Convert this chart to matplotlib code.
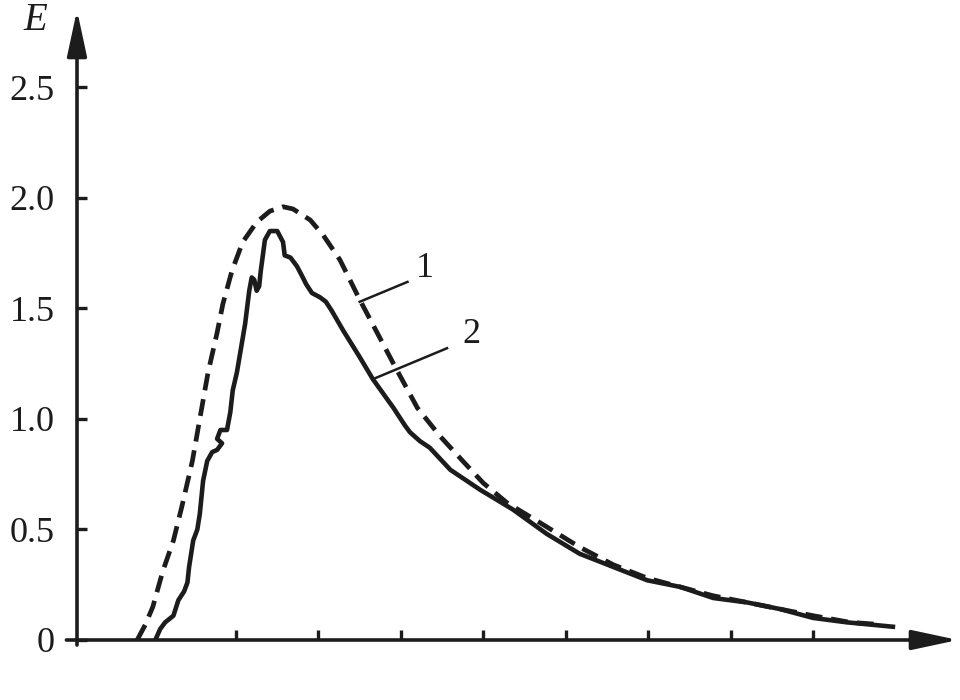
import matplotlib
matplotlib.use("Agg")
import matplotlib.pyplot as plt
from matplotlib.patches import ArrowStyle

# ---- data ----
x1 = [0.80, 0.90, 0.99, 1.11, 1.24, 1.34, 1.47, 1.56, 1.66, 1.77, 1.84, 1.95,
      2.08, 2.25, 2.41, 2.57, 2.69, 2.90, 3.06, 3.26, 3.42, 3.50, 3.91, 4.20,
      4.48, 4.75, 5.00, 5.29, 5.69, 6.17, 6.58, 6.99, 7.39, 7.79, 8.20, 8.60,
      9.00, 9.45, 9.82]
y1 = [0.00, 0.07, 0.15, 0.31, 0.45, 0.60, 0.81, 1.00, 1.21, 1.39, 1.52, 1.67,
      1.80, 1.89, 1.94, 1.96, 1.95, 1.90, 1.83, 1.72, 1.60, 1.54, 1.25, 1.05,
      0.92, 0.81, 0.71, 0.62, 0.53, 0.42, 0.34, 0.28, 0.24, 0.20, 0.17, 0.14,
      0.11, 0.08, 0.07]

x2 = [1.02, 1.08, 1.14, 1.24, 1.30, 1.37, 1.41, 1.43, 1.48, 1.53, 1.56, 1.60,
      1.65, 1.71, 1.77, 1.83, 1.77, 1.81, 1.89, 1.93, 1.96, 2.01, 2.06, 2.11,
      2.16, 2.19, 2.22, 2.25, 2.28, 2.30, 2.35, 2.41, 2.50, 2.57, 2.59, 2.66,
      2.74, 2.81, 2.85, 2.92, 3.02, 3.09, 3.16, 3.30, 3.50, 3.66, 3.91, 4.05,
      4.11, 4.23, 4.35, 4.60, 4.96, 5.36, 5.77, 6.17, 6.58, 6.99, 7.39, 7.79,
      8.20, 8.60, 9.00, 9.41, 9.97]
y2 = [0.00, 0.05, 0.08, 0.11, 0.18, 0.22, 0.26, 0.33, 0.45, 0.50, 0.57, 0.72,
      0.81, 0.85, 0.86, 0.89, 0.91, 0.95, 0.95, 1.03, 1.13, 1.21, 1.32, 1.43,
      1.58, 1.64, 1.63, 1.58, 1.60, 1.67, 1.81, 1.85, 1.85, 1.80, 1.74, 1.73,
      1.69, 1.64, 1.61, 1.57, 1.55, 1.53, 1.49, 1.40, 1.28, 1.18, 1.05, 0.97,
      0.94, 0.90, 0.87, 0.77, 0.68, 0.59, 0.48, 0.39, 0.33, 0.27, 0.24, 0.19,
      0.17, 0.14, 0.10, 0.08, 0.06]

y_ticks = [0, 0.5, 1.0, 1.5, 2.0, 2.5]
y_tick_labels = ["0", "0.5", "1.0", "1.5", "2.0", "2.5"]
x_ticks = [2, 3, 4, 5, 6, 7, 8, 9]

curve_labels = ["1", "2"]
leader_start = [(3.50, 1.53), (3.66, 1.18)]
leader_end = [(4.08, 1.62), (4.56, 1.32)]
label_pos = [(4.29, 1.68), (4.86, 1.38)]

ink = "#1c1c1c"
serif = ["Liberation Serif", "DejaVu Serif"]

fig = plt.figure(figsize=(9.6, 7.0), dpi=100)
fig.patch.set_facecolor("white")
ax = fig.add_axes([77 / 960, 60 / 700, 881 / 960, 630 / 700])
ax.set_xlim(0.07, 10.76)
ax.set_ylim(0, 2.85)
for s in ax.spines.values():
    s.set_visible(False)

# curves
ax.plot(x1, y1, color=ink, lw=3.4, dashes=(3.6, 1.9), solid_capstyle="butt",
        dash_capstyle="butt", zorder=3)
ax.plot(x2, y2, color=ink, lw=3.3, solid_joinstyle="round", zorder=3)

# leader lines and labels
for lab, (xs, ys), (xe, ye), (xl, yl) in zip(curve_labels, leader_start, leader_end, label_pos):
    ax.plot([xs, xe], [ys, ye], color=ink, lw=1.8, zorder=3)
    ax.text(xl, yl, lab, fontsize=26, family=serif, color=ink,
            ha="center", va="center")

# axes with arrows
style = ArrowStyle("-|>", head_length=1.4, head_width=0.3)
ax.annotate("", xy=(1, 0), xytext=(-0.012, 0), xycoords="axes fraction",
            arrowprops=dict(arrowstyle=style, mutation_scale=20, lw=2.6,
                            color=ink, shrinkA=0, shrinkB=0), annotation_clip=False)
ax.annotate("", xy=(0, 1), xytext=(0, -0.008), xycoords="axes fraction",
            arrowprops=dict(arrowstyle=style, mutation_scale=20, lw=2.6,
                            color=ink, shrinkA=0, shrinkB=0), annotation_clip=False)

ax.set_yticks(y_ticks)
ax.set_yticklabels(y_tick_labels)
ax.set_xticks(x_ticks)
ax.set_xticklabels([])
ax.tick_params(axis="both", direction="in", length=7, width=2.4, color=ink)
ax.tick_params(axis="y", pad=16, labelsize=26, labelcolor=ink)
for t in ax.get_yticklabels():
    t.set_fontfamily(serif)

fig.text(35 / 960, 1 - 20 / 700, "E", fontsize=28, family=serif, style="italic",
         color=ink, ha="center", va="center")

fig.savefig("out.png", dpi=100, facecolor="white")
